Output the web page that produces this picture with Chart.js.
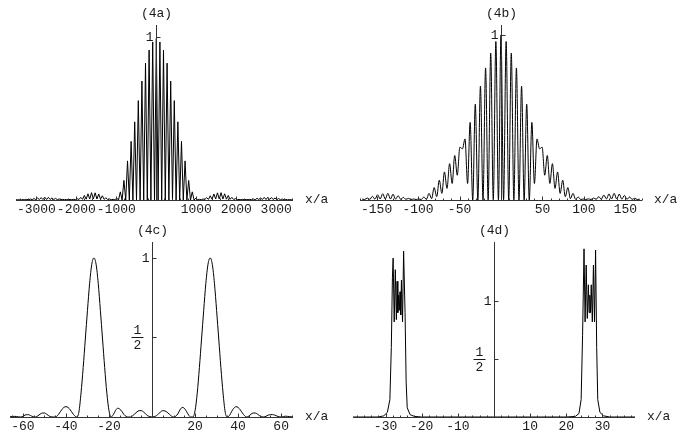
<!DOCTYPE html>
<html>
<head>
<meta charset="utf-8">
<script src="https://cdn.jsdelivr.net/npm/chart.js@4.4.1/dist/chart.umd.min.js"></script>
<style>
  html, body { margin: 0; padding: 0; background: #fff; }
  #wrap { position: relative; width: 681px; height: 443px; }
  .panel { position: absolute; }
  #pa { left: 0; top: 0; }
  #pb { left: 340px; top: 0; }
  #pc { left: 0; top: 215px; }
  #pd { left: 340px; top: 215px; }
</style>
</head>
<body>
<div id="wrap">
  <div class="panel" id="pa"><canvas id="ca" width="340" height="215"></canvas></div>
  <div class="panel" id="pb"><canvas id="cb" width="341" height="215"></canvas></div>
  <div class="panel" id="pc"><canvas id="cc" width="340" height="228"></canvas></div>
  <div class="panel" id="pd"><canvas id="cd" width="341" height="228"></canvas></div>
</div>
<script>
'use strict';

// (4a): fringe peaks / troughs read every half fringe (45 x/a), from x/a = -3510
var aStart = -3510, aStep = 45;
var aValues = [
    0.002, 0.001, 0.002, 0.001, 0.003, 0.001, 0.004, 0.001, 0.006, 0.002,
    0.009, 0.002, 0.012, 0.003, 0.015, 0.003, 0.017, 0.003, 0.016, 0.003,
    0.013, 0.003, 0.010, 0.002, 0.006, 0.002, 0.004, 0.002, 0.003, 0.002,
    0.003, 0.002, 0.004, 0.002, 0.008, 0.003, 0.016, 0.004, 0.028, 0.005,
    0.038, 0.006, 0.045, 0.006, 0.044, 0.006, 0.037, 0.005, 0.026, 0.004,
    0.014, 0.003, 0.006, 0.002, 0.004, 0.001, 0.012, 0, 0.05, 0,
    0.12, 0, 0.24, 0, 0.36, 0, 0.48, 0, 0.61, 0,
    0.73, 0, 0.84, 0, 0.92, 0, 0.97, 0, 0.99, 0,
    0.97, 0, 0.92, 0, 0.84, 0, 0.73, 0, 0.61, 0,
    0.48, 0, 0.36, 0, 0.24, 0, 0.12, 0, 0.05, 0,
    0.012, 0.001, 0.004, 0.002, 0.006, 0.003, 0.014, 0.004, 0.026, 0.005,
    0.037, 0.006, 0.044, 0.006, 0.045, 0.006, 0.038, 0.005, 0.028, 0.004,
    0.016, 0.003, 0.008, 0.002, 0.004, 0.002, 0.003, 0.002, 0.003, 0.002,
    0.004, 0.002, 0.006, 0.002, 0.010, 0.003, 0.013, 0.003, 0.016, 0.003,
    0.017, 0.003, 0.015, 0.003, 0.012, 0.002, 0.009, 0.002, 0.006, 0.001,
    0.004, 0.001, 0.003, 0.001, 0.002
];
var aTicks = [-3000, -2000, -1000, 1000, 2000, 3000];

// (4b): every half fringe (3.1 x/a), from x/a = -167.4
var bStart = -167.4, bStep = 3.1;
var bValues = [
    0.005, 0.003, 0.012, 0.004, 0.022, 0.005, 0.032, 0.006, 0.038, 0.006,
    0.040, 0.006, 0.035, 0.005, 0.026, 0.004, 0.016, 0.004, 0.010, 0.003,
    0.006, 0.003, 0.006, 0.003, 0.018, 0.004, 0.04, 0.008, 0.075, 0.02,
    0.12, 0.04, 0.17, 0.07, 0.22, 0.10, 0.27, 0.15, 0.32, 0.31,
    0.37, 0.10, 0.47, 0, 0.58, 0, 0.69, 0, 0.80, 0,
    0.89, 0, 0.96, 0, 1.0, 0, 0.96, 0, 0.89, 0,
    0.80, 0, 0.69, 0, 0.58, 0, 0.47, 0.10, 0.37, 0.31,
    0.32, 0.15, 0.27, 0.10, 0.22, 0.07, 0.17, 0.04, 0.12, 0.02,
    0.075, 0.008, 0.04, 0.004, 0.018, 0.003, 0.006, 0.003, 0.007, 0.003,
    0.012, 0.004, 0.020, 0.005, 0.030, 0.006, 0.037, 0.006, 0.040, 0.006,
    0.036, 0.005, 0.028, 0.004, 0.018, 0.004, 0.010, 0.003, 0.005
];
var bTicks = [-150, -100, -50, 50, 100, 150];

// (4c): one value per unit of x/a, from -66 to 66
var cStart = -66, cStep = 1;
var cValues = [
    0.001, 0.003, 0.004, 0.003, 0.001, 0, 0.005, 0.012, 0.015, 0.013,
    0.006, 0.001, 0, 0.008, 0.018, 0.025, 0.025, 0.018, 0.008, 0.001,
    0, 0, 0.008, 0.025, 0.045, 0.06, 0.065, 0.06, 0.045, 0.025,
    0.008, 0, 0.03, 0.15, 0.31, 0.49, 0.67, 0.84, 0.96, 1.0,
    0.96, 0.84, 0.67, 0.49, 0.31, 0.15, 0.04, 0, 0.015, 0.04,
    0.055, 0.05, 0.035, 0.015, 0.003, 0, 0, 0.008, 0.02, 0.032,
    0.04, 0.04, 0.032, 0.02, 0.008, 0.002, 0, 0.002, 0.008, 0.02,
    0.032, 0.04, 0.038, 0.03, 0.018, 0.006, 0, 0.005, 0.02, 0.045,
    0.06, 0.055, 0.035, 0.012, 0, 0, 0.04, 0.15, 0.31, 0.49,
    0.67, 0.84, 0.96, 1.0, 0.96, 0.84, 0.67, 0.49, 0.31, 0.15,
    0.03, 0, 0.01, 0.035, 0.055, 0.065, 0.06, 0.045, 0.025, 0.008,
    0, 0.006, 0.018, 0.025, 0.025, 0.018, 0.008, 0.001, 0, 0.005,
    0.012, 0.015, 0.015, 0.012, 0.006, 0.001, 0, 0.003, 0.005, 0.004,
    0.002, 0.001, 0
];
var cTicks = [-60, -40, -20, 20, 40, 60];

// (4d): two flat-topped peaks with fast ripple
var dX = [-39, -32, -30.5, -29.5, -28.8, -28.4, -28.1, -27.9, -27.6, -27.3,
          -27.0, -26.8, -26.6, -26.4, -26.2, -26.0, -25.8, -25.6, -25.3, -25.0,
          -24.6, -24.3, -24.0, -23.2, -22, -20,
          20, 22.5, 23.5, 24.1, 24.5, 24.9, 25.2, 25.5, 25.8, 26.1,
          26.3, 26.5, 26.7, 26.9, 27.2, 27.5, 27.8, 28.1, 28.4, 28.7,
          29.3, 30.3, 32, 39];
var dY = [0, 0, 0.01, 0.04, 0.15, 0.6, 1.2, 1.37, 0.82, 1.27,
          0.84, 1.17, 0.9, 1.05, 0.92, 1.08, 0.88, 1.18, 0.82, 1.43,
          0.9, 0.3, 0.08, 0.02, 0.005, 0,
          0, 0.005, 0.03, 0.15, 0.7, 1.45, 0.82, 1.31, 0.85, 1.14,
          0.9, 1.05, 0.9, 1.14, 0.82, 1.31, 0.82, 1.44, 0.6, 0.15,
          0.04, 0.01, 0, 0];
var dTicks = [-30, -20, -10, 10, 20, 30];

var FONT = '13px "Liberation Mono", "DejaVu Sans Mono", monospace';
var INK = '#1a1a1a';

function gridPoints(start, step, values) {
    return values.map(function(v, i) { return { x: start + i * step, y: v }; });
}

function pairPoints(xs, ys) {
    return xs.map(function(x, i) { return { x: x, y: ys[i] }; });
}

// Mathematica-style axes: crossing at the origin, inward ticks, labels beside
var mmaAxes = {
    id: 'mmaAxes',
    afterDatasetsDraw: function(chart, args, opts) {
        var ctx = chart.ctx;
        var xs = chart.scales.x, ys = chart.scales.y, area = chart.chartArea;
        var x0 = Math.round(xs.getPixelForValue(0)) + 0.5;
        var y0 = Math.round(ys.getPixelForValue(0)) + 0.5;

        ctx.save();
        ctx.strokeStyle = '#333';
        ctx.lineWidth = 1;
        ctx.beginPath();
        ctx.moveTo(area.left, y0);
        ctx.lineTo(area.right, y0);
        ctx.moveTo(x0, area.top);
        ctx.lineTo(x0, y0);

        // minor ticks
        var v, px;
        for (v = Math.ceil(xs.min / opts.minor) * opts.minor; v <= xs.max; v += opts.minor) {
            if (Math.abs(v) < 1e-9) continue;
            px = Math.round(xs.getPixelForValue(v)) + 0.5;
            ctx.moveTo(px, y0);
            ctx.lineTo(px, y0 - 2);
        }
        opts.ticks.forEach(function(t) {
            px = Math.round(xs.getPixelForValue(t)) + 0.5;
            ctx.moveTo(px, y0);
            ctx.lineTo(px, y0 - 4);
        });
        opts.yTicks.forEach(function(t) {
            var py = Math.round(ys.getPixelForValue(t.v)) + 0.5;
            ctx.moveTo(x0, py);
            ctx.lineTo(x0 + 4, py);
        });
        ctx.stroke();

        ctx.fillStyle = INK;
        ctx.font = FONT;
        ctx.textAlign = 'center';
        ctx.textBaseline = 'top';
        opts.ticks.forEach(function(t) {
            ctx.fillText(String(t), xs.getPixelForValue(t), y0 + 3);
        });

        opts.yTicks.forEach(function(t) {
            var py = ys.getPixelForValue(t.v);
            if (t.den) {
                var cx = x0 - 15;
                ctx.textAlign = 'center';
                ctx.textBaseline = 'bottom';
                ctx.fillText(t.num, cx, py);
                ctx.textBaseline = 'top';
                ctx.fillText(t.den, cx, py + 2);
                ctx.fillRect(cx - 6, Math.round(py), 12, 1);
            } else {
                ctx.textAlign = 'right';
                ctx.textBaseline = 'middle';
                ctx.fillText(t.text, x0 - 3, py + 1);
            }
        });

        ctx.textAlign = 'center';
        ctx.textBaseline = 'middle';
        ctx.fillText(opts.title, x0, area.top - 11);

        ctx.textAlign = 'left';
        ctx.fillText('x/a', area.right + 12, y0 - 1);
        ctx.restore();
    }
};

function makePanel(canvasId, points, cfg) {
    var canvas = document.getElementById(canvasId);
    return new Chart(canvas.getContext('2d'), {
        type: 'line',
        data: {
            datasets: [{
                data: points,
                borderColor: '#000',
                borderWidth: 1,
                pointRadius: 0,
                fill: false,
                tension: cfg.smooth ? 0.4 : 0,
                cubicInterpolationMode: cfg.smooth ? 'monotone' : 'default'
            }]
        },
        options: {
            responsive: false,
            animation: false,
            devicePixelRatio: 1,
            layout: { padding: cfg.pad },
            plugins: {
                legend: { display: false },
                tooltip: { enabled: false },
                mmaAxes: cfg.axes
            },
            scales: {
                x: { type: 'linear', display: false, min: cfg.xMin, max: cfg.xMax },
                y: { type: 'linear', display: false, min: 0, max: cfg.yMax }
            }
        },
        plugins: [mmaAxes]
    });
}

makePanel('ca', gridPoints(aStart, aStep, aValues), {
    xMin: -3510, xMax: 3420, yMax: 1.074,
    pad: { left: 16, right: 47, top: 25, bottom: 15 },
    axes: { title: '(4a)', ticks: aTicks, minor: 200, yTicks: [{ v: 1, text: '1' }] }
});

makePanel('cb', gridPoints(bStart, bStep, bValues), {
    xMin: -170, xMax: 170, yMax: 1.06, smooth: true,
    pad: { left: 20, right: 39, top: 25, bottom: 15 },
    axes: { title: '(4b)', ticks: bTicks, minor: 10, yTicks: [{ v: 1, text: '1' }] }
});

makePanel('cc', gridPoints(cStart, cStep, cValues), {
    xMin: -66, xMax: 65.5, yMax: 1.10, smooth: true,
    pad: { left: 10, right: 47, top: 27, bottom: 26 },
    axes: { title: '(4c)', ticks: cTicks, minor: 5,
            yTicks: [{ v: 1, text: '1' }, { v: 0.5, num: '1', den: '2' }] }
});

makePanel('cd', pairPoints(dX, dY), {
    xMin: -39, xMax: 39, yMax: 1.509,
    pad: { left: 13, right: 46, top: 27, bottom: 26 },
    axes: { title: '(4d)', ticks: dTicks, minor: 2,
            yTicks: [{ v: 1, text: '1' }, { v: 0.5, num: '1', den: '2' }] }
});
</script>
</body>
</html>
